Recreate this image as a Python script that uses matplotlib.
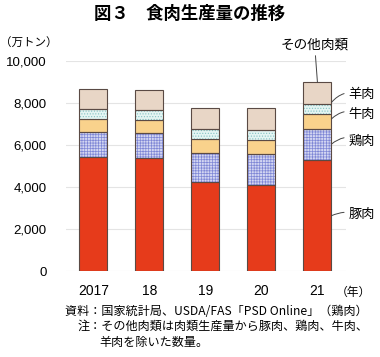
import numpy as np
import matplotlib.pyplot as plt

plt.rcParams['font.family'] = ['Liberation Sans', 'Noto Sans CJK JP', 'DejaVu Sans']

# China meat production (10k tonnes)
years = ['2017', '18', '19', '20', '21']
pork = [5452, 5404, 4255, 4113, 5296]
chicken = [1180, 1170, 1380, 1460, 1470]
beef = [635, 644, 667, 672, 698]
mutton = [471, 475, 488, 492, 514]
other = [916, 932, 969, 1011, 1012]

series = [
    ('豚肉', pork, '#E63B1B', None, None),
    ('鶏肉', chicken, '#D3D6F2', '++++++', '#7F87D6'),
    ('牛肉', beef, '#F9D28C', None, None),
    ('羊肉', mutton, '#E4F5F3', '......', '#86C4C4'),
    ('その他肉類', other, '#E8D6C6', None, None),
]

fig = plt.figure(figsize=(3.8, 3.57), dpi=100)
ax = fig.add_axes([0.1737, 0.2395, 0.7368, 0.5896])
plt.rcParams['hatch.linewidth'] = 0.5

x = np.arange(len(years))
bottom = np.zeros(len(years))
tops = {}
for name, vals, fc, hatch, hc in series:
    vals = np.array(vals, dtype=float)
    if hatch:
        # hatch takes the edge colour, so draw fill+hatch first, outline after
        ax.bar(x, vals, 0.5, bottom=bottom, color=fc, edgecolor=hc,
               linewidth=0, hatch=hatch, zorder=3)
        ax.bar(x, vals, 0.5, bottom=bottom, fill=False, edgecolor='#5a4a44',
               linewidth=0.8, zorder=4)
    else:
        ax.bar(x, vals, 0.5, bottom=bottom, color=fc, edgecolor='#5a4a44',
               linewidth=0.8, zorder=3)
    tops[name] = (bottom.copy(), bottom + vals)
    bottom = bottom + vals

ax.set_ylim(0, 10000)
ax.set_xlim(-0.49, 4.51)
ax.set_yticks(np.arange(0, 10001, 2000))
ax.set_yticklabels([f'{v:,}' for v in range(0, 10001, 2000)], fontsize=9.5)
ax.set_xticks(x)
ax.set_xticklabels(years, fontsize=10)
ax.tick_params(length=0)
ax.tick_params(axis='y', pad=14)
ax.tick_params(axis='x', pad=9)
for s in ax.spines.values():
    s.set_visible(False)
ax.yaxis.grid(True, color='#e4e4e4', linewidth=0.8, zorder=0)

jp = ['Noto Sans CJK JP']
fig.text(0.0, 0.872, '（万トン）', fontsize=8.3, family=jp)
ax.text(4.33, -1000, '（年）', fontsize=8.5, family=jp, va='center', ha='left')

fig.text(0.5, 0.962, '図３　食肉生産量の推移', fontsize=12.5, fontweight='bold',
         ha='center', va='center', family=jp)

# series labels on the right
last = len(years) - 1
edge = x[last] + 0.25
lab_x = 4.55
ann = dict(arrowstyle='-', color='#444444', lw=0.7)
labels = [
    ('豚肉', 2700, 2650, 'arc3,rad=0.2'),
    ('鶏肉', 6180, 6050, 'arc3,rad=0.35'),
    ('牛肉', 7450, 7250, 'arc3,rad=0.35'),
    ('羊肉', 8400, 8030, 'arc3,rad=0.35'),
]
for name, ly, py, cs in labels:
    ax.annotate(name, xy=(edge, py), xytext=(lab_x, ly), fontsize=9.5,
                family=jp, va='center', ha='left', annotation_clip=False,
                arrowprops=dict(ann, connectionstyle=cs, shrinkA=1, shrinkB=0))
ax.annotate('その他肉類', xy=(x[last], tops['その他肉類'][1][last]),
            xytext=(x[last] - 0.05, 10450), fontsize=9.8,
            family=jp, va='bottom', ha='center', annotation_clip=False,
            arrowprops=dict(ann, shrinkA=1, shrinkB=0))

fig.text(0.172, 0.128, '資料：国家統計局、USDA/FAS「PSD Online」（鶏肉）', fontsize=8.7,
         family=jp, va='center')
fig.text(0.205, 0.085, '注：その他肉類は肉類生産量から豚肉、鶏肉、牛肉、', fontsize=8.7,
         family=jp, va='center')
fig.text(0.262, 0.042, '羊肉を除いた数量。', fontsize=8.7, family=jp, va='center')

fig.savefig('out.png', dpi=100)
